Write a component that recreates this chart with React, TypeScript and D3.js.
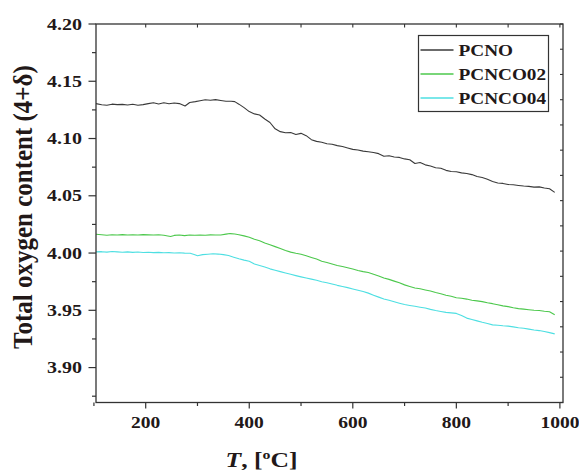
import React from "react";
import * as d3 from "d3";

// Oxygen content vs temperature, [T (°C), 4+δ]
const pcnoData: [number, number][] = [
  [104, 4.1305], [115, 4.1295], [125, 4.129], [135, 4.13], [145, 4.1296], [155, 4.1298],
  [165, 4.1293], [175, 4.1299], [185, 4.1291], [195, 4.1296], [205, 4.1305], [215, 4.1312],
  [225, 4.1302], [235, 4.1312], [245, 4.1304], [255, 4.131], [265, 4.1305], [276, 4.1284],
  [285, 4.1315], [296, 4.1322], [305, 4.133], [315, 4.1338], [325, 4.1334], [335, 4.134],
  [345, 4.1332], [355, 4.1325], [365, 4.1325], [372, 4.1322], [380, 4.13], [390, 4.127],
  [400, 4.1235], [410, 4.1215], [420, 4.1205], [430, 4.117], [440, 4.114], [450, 4.1085],
  [460, 4.106], [470, 4.105], [480, 4.1052], [490, 4.1035], [500, 4.1045], [510, 4.1025],
  [520, 4.099], [530, 4.0975], [540, 4.0968], [550, 4.0955], [560, 4.095], [570, 4.0938],
  [580, 4.093], [590, 4.0918], [600, 4.0905], [610, 4.09], [620, 4.089], [630, 4.0885],
  [640, 4.0878], [650, 4.0868], [660, 4.0845], [670, 4.085], [680, 4.0838], [690, 4.0835],
  [700, 4.0822], [710, 4.0815], [720, 4.0782], [730, 4.079], [740, 4.077], [750, 4.076],
  [760, 4.0745], [770, 4.074], [780, 4.0722], [790, 4.0712], [800, 4.071], [810, 4.07],
  [820, 4.0695], [830, 4.0685], [840, 4.0668], [850, 4.066], [860, 4.0645], [870, 4.0625],
  [880, 4.0612], [890, 4.0608], [900, 4.0598], [910, 4.0596], [920, 4.059], [930, 4.0585],
  [940, 4.0582], [950, 4.0576], [960, 4.0578], [970, 4.0568], [980, 4.0562], [990, 4.053],
];

const pcnco02Data: [number, number][] = [
  [104, 4.0164], [115, 4.016], [125, 4.0156], [135, 4.016], [145, 4.0158], [155, 4.0161],
  [165, 4.0157], [175, 4.016], [185, 4.0158], [195, 4.0161], [205, 4.0159], [215, 4.0157],
  [225, 4.016], [235, 4.0156], [248, 4.0144], [255, 4.0154], [265, 4.0158], [275, 4.0152],
  [285, 4.0157], [295, 4.0155], [305, 4.0158], [315, 4.0156], [325, 4.0159], [335, 4.0157],
  [345, 4.0158], [355, 4.0165], [363, 4.017], [372, 4.0166], [380, 4.016], [390, 4.015],
  [400, 4.0138], [410, 4.012], [420, 4.0108], [430, 4.0088], [440, 4.0072], [450, 4.0056],
  [460, 4.004], [470, 4.0022], [480, 4.0008], [490, 3.9998], [500, 3.999], [510, 3.9977],
  [520, 3.9962], [530, 3.9948], [540, 3.9928], [550, 3.9918], [560, 3.9905], [570, 3.9892],
  [580, 3.9882], [590, 3.9872], [600, 3.986], [610, 3.9848], [620, 3.9838], [630, 3.983],
  [640, 3.9815], [650, 3.98], [660, 3.9782], [670, 3.977], [680, 3.9755], [690, 3.974],
  [700, 3.9722], [710, 3.9708], [720, 3.9695], [730, 3.9688], [740, 3.9678], [750, 3.9668],
  [760, 3.9655], [770, 3.9645], [780, 3.9632], [790, 3.9622], [800, 3.961], [810, 3.9605],
  [820, 3.9598], [830, 3.9588], [840, 3.9582], [850, 3.9576], [860, 3.9566], [870, 3.9558],
  [880, 3.9548], [890, 3.9539], [900, 3.9532], [910, 3.9522], [920, 3.9515], [930, 3.951],
  [940, 3.9505], [950, 3.95], [960, 3.9498], [970, 3.9492], [980, 3.9488], [990, 3.9462],
];

const pcnco04Data: [number, number][] = [
  [104, 4.001], [115, 4.0012], [125, 4.0008], [135, 4.0013], [145, 4.001], [155, 4.0007],
  [165, 4.001], [175, 4.0006], [185, 4.0009], [195, 4.0005], [205, 4.0007], [215, 4.0004],
  [225, 4.0006], [235, 4.0002], [245, 4.0004], [255, 4.0001], [265, 4.0003], [275, 3.9999],
  [286, 3.9998], [295, 3.9985], [300, 3.9976], [310, 3.9986], [320, 3.999], [330, 3.9994],
  [340, 3.9991], [350, 3.9986], [360, 3.9978], [370, 3.9964], [380, 3.995], [390, 3.9938],
  [400, 3.9928], [410, 3.9905], [420, 3.9892], [430, 3.9878], [440, 3.9862], [450, 3.985],
  [460, 3.9838], [470, 3.9826], [480, 3.9815], [490, 3.9803], [500, 3.9792], [510, 3.9782],
  [520, 3.9772], [530, 3.9762], [540, 3.975], [550, 3.974], [560, 3.973], [570, 3.9718],
  [580, 3.9708], [590, 3.9698], [600, 3.9686], [610, 3.9675], [620, 3.9664], [630, 3.965],
  [640, 3.9632], [650, 3.9615], [660, 3.9598], [670, 3.9588], [680, 3.9575], [690, 3.9562],
  [700, 3.955], [710, 3.9542], [720, 3.9535], [730, 3.9527], [740, 3.952], [750, 3.9508],
  [760, 3.9498], [770, 3.949], [780, 3.9482], [790, 3.9478], [800, 3.9473], [810, 3.9455],
  [820, 3.9432], [830, 3.942], [840, 3.9408], [850, 3.9395], [860, 3.9385], [870, 3.9373],
  [880, 3.937], [890, 3.9365], [900, 3.9362], [910, 3.9355], [920, 3.9348], [930, 3.9344],
  [940, 3.9336], [950, 3.9328], [960, 3.9323], [970, 3.9315], [980, 3.9305], [990, 3.9294],
];

const seriesNames = ["PCNO", "PCNCO02", "PCNCO04"];
const seriesColors = ["#3a3a3a", "#4cc84c", "#4edfe2"];

const xMajorTicks = [200, 400, 600, 800, 1000];
const xMinorTicks = [100, 300, 500, 700, 900];
const yMajorTicks = [3.9, 3.95, 4.0, 4.05, 4.1, 4.15, 4.2];
const yMinorTicks = [3.875, 3.925, 3.975, 4.025, 4.075, 4.125, 4.175];

const W = 579;
const H = 470;
const plot = { left: 96, top: 24, right: 563, bottom: 402.5 };
const FONT = "'Liberation Serif', 'Times New Roman', serif";
const INK = "#221818";
const AXIS = "#333333";

export default function App() {
  const x = d3.scaleLinear().domain([104, 1006]).range([plot.left, plot.right]);
  const y = d3.scaleLinear().domain([3.8695, 4.2]).range([plot.bottom, plot.top]);
  // secondary right-hand scale (unlabelled)
  const yRight = d3.scaleLinear().domain([0, 1.5]).range([plot.bottom, plot.top]);
  const rightTicks = d3.range(0, 16).map((i) => i / 10);

  const line = d3
    .line<[number, number]>()
    .x((d) => x(d[0]))
    .y((d) => y(d[1]));

  const datasets = [pcnoData, pcnco02Data, pcnco04Data];
  const fmtY = d3.format(".2f");

  const legend = { x: 418.5, y: 35.5, w: 130, h: 76, row: 24 };

  return (
    <svg
      width={W}
      height={H}
      style={{ position: "absolute", left: 0, top: 0, background: "#fff" }}
      fontFamily={FONT}
      fontWeight="bold"
    >
      <rect width={W} height={H} fill="#fff" />

      {/* data lines */}
      {datasets.map((d, i) => (
        <path key={seriesNames[i]} d={line(d) ?? ""} fill="none" stroke={seriesColors[i]} strokeWidth={1.1} strokeLinejoin="round" />
      ))}

      {/* frame */}
      <rect
        x={plot.left}
        y={plot.top}
        width={plot.right - plot.left}
        height={plot.bottom - plot.top}
        fill="none"
        stroke={AXIS}
        strokeWidth={1.3}
      />

      {/* left axis ticks */}
      {yMajorTicks.map((t) => (
        <line key={`ly${t}`} x1={plot.left - 7.5} x2={plot.left} y1={y(t)} y2={y(t)} stroke={AXIS} strokeWidth={1.2} />
      ))}
      {yMinorTicks.map((t) => (
        <line key={`lym${t}`} x1={plot.left - 4} x2={plot.left} y1={y(t)} y2={y(t)} stroke={AXIS} strokeWidth={1.2} />
      ))}
      {yMajorTicks.map((t) => (
        <text
          key={`lyt${t}`}
          transform={`translate(${plot.left - 14},${y(t) + 5.5}) scale(1.25,1)`}
          textAnchor="end"
          fontSize={16}
          fill={INK}
        >
          {fmtY(t)}
        </text>
      ))}

      {/* right axis ticks */}
      {rightTicks.map((t) => (
        <line key={`ry${t}`} x1={plot.right - 3} x2={plot.right} y1={yRight(t)} y2={yRight(t)} stroke={AXIS} strokeWidth={1.1} />
      ))}

      {/* bottom axis ticks */}
      {xMajorTicks.map((t) => (
        <line key={`bx${t}`} x1={x(t)} x2={x(t)} y1={plot.bottom} y2={plot.bottom + 6} stroke={AXIS} strokeWidth={1.2} />
      ))}
      {xMinorTicks.map((t) => (
        <line key={`bxm${t}`} x1={x(t)} x2={x(t)} y1={plot.bottom} y2={plot.bottom + 3.5} stroke={AXIS} strokeWidth={1.2} />
      ))}
      {xMajorTicks.map((t) => (
        <text
          key={`bxt${t}`}
          transform={`translate(${x(t)},${plot.bottom + 25.5}) scale(1.22,1)`}
          textAnchor="middle"
          fontSize={16}
          fill={INK}
        >
          {t}
        </text>
      ))}

      {/* top axis ticks */}
      {[...xMinorTicks, ...xMajorTicks]
        .filter((t) => t >= 104)
        .map((t) => (
          <line key={`tx${t}`} x1={x(t)} x2={x(t)} y1={plot.top} y2={plot.top + 3.5} stroke={AXIS} strokeWidth={1.1} />
        ))}

      {/* axis titles */}
      <text transform={`translate(261.5,467) scale(1.22,1)`} textAnchor="middle" fontSize={21} fill={INK}>
        <tspan fontStyle="italic">T</tspan>
        <tspan>, [</tspan>
        <tspan fontSize={13} dy={-8}>o</tspan>
        <tspan dy={8}>C]</tspan>
      </text>
      <text
        transform={`translate(31.5,207) scale(1.1,1) rotate(-90)`}
        textAnchor="middle"
        fontSize={25}
        fill={INK}
      >
        Total oxygen content (4+δ)
      </text>

      {/* legend */}
      <rect x={legend.x} y={legend.y} width={legend.w} height={legend.h} fill="#fff" stroke={AXIS} strokeWidth={1.2} />
      {seriesNames.map((name, i) => {
        const cy = legend.y + 14.5 + i * legend.row;
        return (
          <g key={`lg${name}`}>
            <line x1={legend.x + 2} x2={legend.x + 35} y1={cy} y2={cy} stroke={seriesColors[i]} strokeWidth={1.3} />
            <text transform={`translate(${legend.x + 40},${cy + 6}) scale(1.1,1)`} fontSize={17.5} fill={INK}>
              {name}
            </text>
          </g>
        );
      })}
    </svg>
  );
}
